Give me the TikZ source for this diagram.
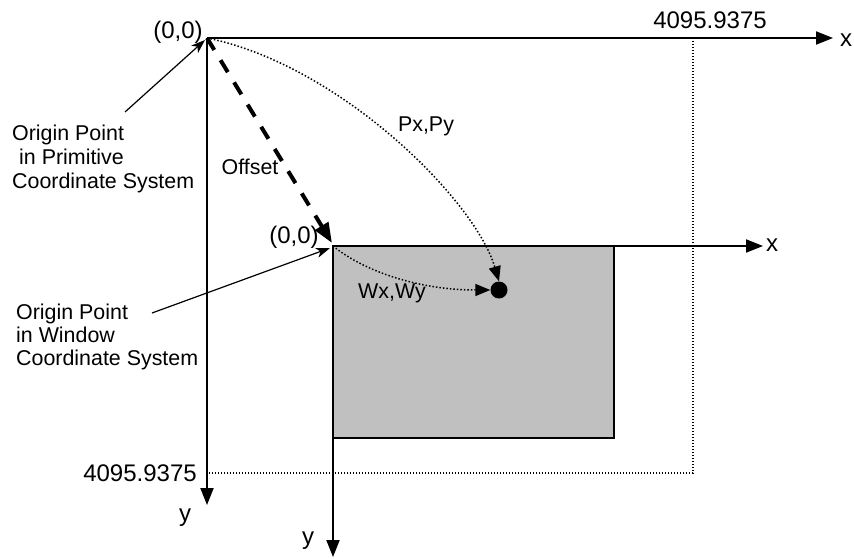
\documentclass[tikz,border=0pt]{standalone}
\usepackage{fontspec}
\setmainfont{Liberation Sans}
\usetikzlibrary{arrows.meta}
\definecolor{winfill}{HTML}{C0C0C0}
\tikzset{
  axis/.style={line width=2pt,-{Triangle[length=17pt,width=13pt]}},
  leader/.style={line width=1.2pt,-{Stealth[length=14pt,width=10pt,inset=4pt]}},
  dotline/.style={line width=1.3pt,dash pattern=on 1.3pt off 1.7pt},
  dotarrow/.style={line width=1.5pt,dash pattern=on 1.5pt off 2pt,-{Triangle[length=15pt,width=12pt]}},
  offsetline/.style={line width=4pt,dash pattern=on 14pt off 12pt,-{Triangle[length=20pt,width=15pt]}},
  lbl/.style={inner sep=0pt,font=\fontsize{21.4pt}{24pt}\selectfont},
  num/.style={inner sep=0pt,font=\fontsize{24pt}{28pt}\selectfont}
}
\begin{document}
\begin{tikzpicture}[x=1pt,y=-1pt]
\useasboundingbox[fill=white] (0,0) rectangle (854,559);
% window rectangle
\fill[winfill] (333,246) rectangle (614,438);
\draw[line width=2pt] (333,246) rectangle (614,438);
% named points
\coordinate (O1) at (207,38);
\coordinate (O2) at (333,246);
\coordinate (X1) at (833,38);
\coordinate (Y1) at (207,505);
\coordinate (X2) at (763,246);
\coordinate (Y2) at (333,557);
\coordinate (MX) at (693,38);
\coordinate (MC) at (693,473);
\coordinate (MY) at (207,473);
\coordinate (OffEnd) at (332,243);
% dotted limits
\draw[dotline] (MX) -- (MC) -- (MY);
% axes
\draw[axis] (O1) -- (X1);
\draw[axis] (O1) -- (Y1);
\draw[axis] (O2) -- (X2);
\draw[axis] (O2) -- (Y2);
% point
\node[circle,fill=black,minimum size=17pt,inner sep=0pt] (P) at (499,290) {};
% offset arrow
\draw[offsetline] (O1) -- (OffEnd);
% dotted curves
\draw[dotarrow] (O1) .. controls (340,65) and (475,200) .. (P.north);
\draw[dotarrow] (O2) .. controls (365,272) and (420,290) .. (P.west);
% labels
\node[num] (l00a) at (178,32) {(0,0)};
\node[num] (l00b) at (294,237) {(0,0)};
\node[num] (lmaxx) at (710,20) {4095.9375};
\node[num] (lmaxy) at (140,473) {4095.9375};
\node[num] (lx1) at (846,40) {x};
\node[num] (ly1) at (185,518) {y};
\node[num] (lx2) at (772,245) {x};
\node[num] (ly2) at (308,541) {y};
\node[lbl] (loff) at (250,167) {Offset};
\node[lbl] (lpp) at (426,126) {Px,Py};
\node[lbl] (lww) at (392,293) {Wx,Wy};
% description labels
\node[lbl,anchor=base west] (pa) at (12,140.5) {Origin Point};
\node[lbl,anchor=base west] (pb) at (19,164.5) {in Primitive};
\node[lbl,anchor=base west] (pc) at (12,189) {Coordinate System};
\node[lbl,anchor=base west] (wa) at (16,319.5) {Origin Point};
\node[lbl,anchor=base west] (wb) at (16,342.5) {in Window};
\node[lbl,anchor=base west] (wc) at (16,365.5) {Coordinate System};
\coordinate (PL) at (125,112);
\coordinate (WL) at (152,313);
\coordinate (PT) at (205,40);
\coordinate (WT) at (330,248);
\draw[leader] (PL) -- (PT);
\draw[leader] (WL) -- (WT);
\end{tikzpicture}
\end{document}
